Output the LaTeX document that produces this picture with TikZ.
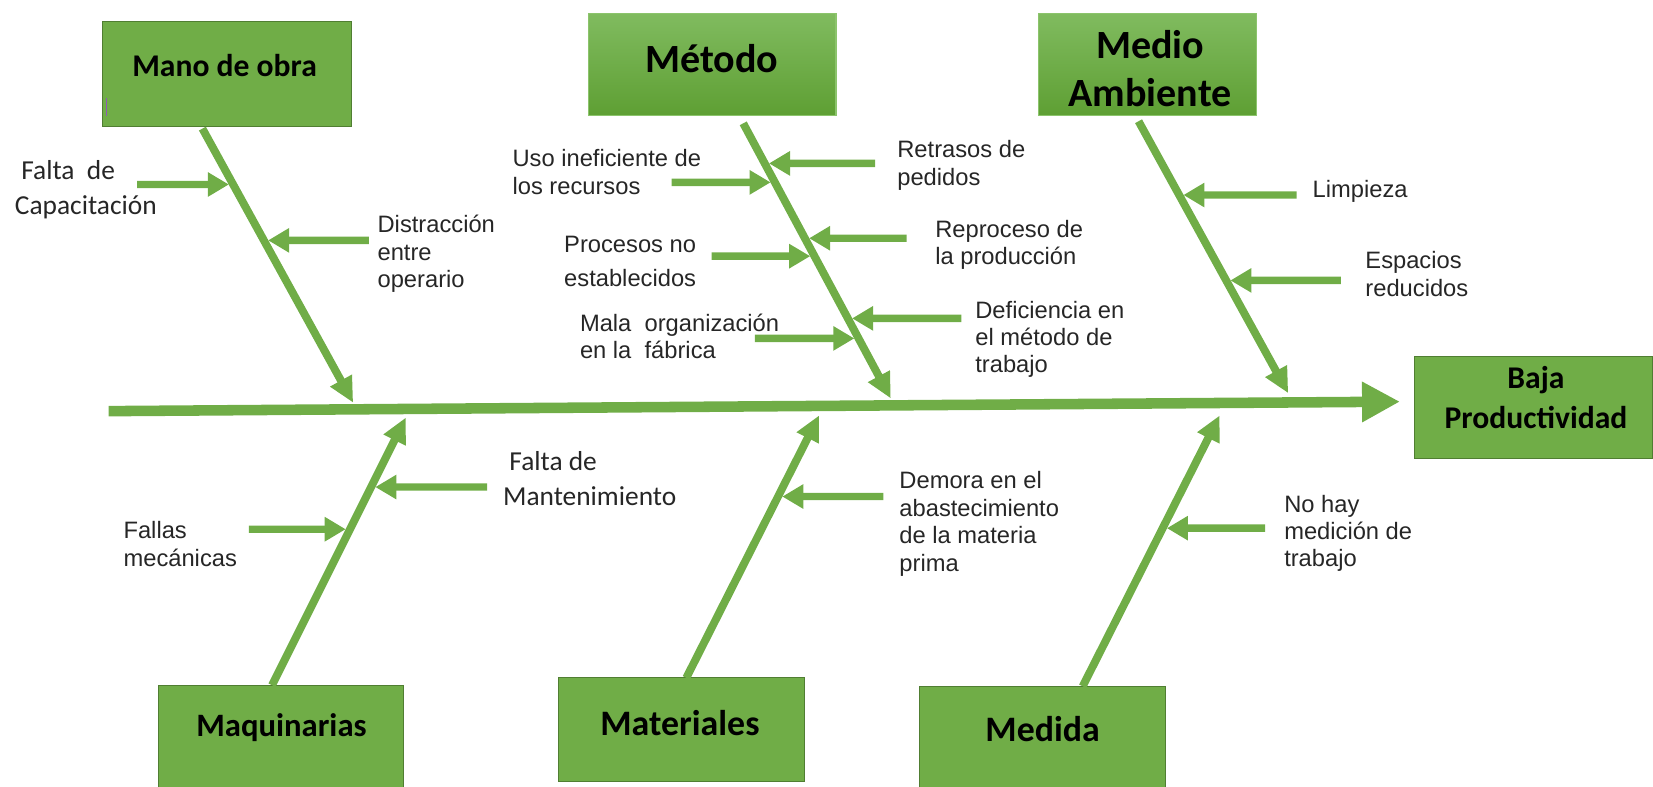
\documentclass[tikz,border=0pt]{standalone}
\usepackage{fontspec}
\setmainfont{Liberation Sans}
\newfontfamily\calibri{Carlito}
\usetikzlibrary{arrows.meta,calc}
\definecolor{lgreen}{HTML}{70AD47}
\definecolor{dborder}{HTML}{507E32}
\definecolor{gtop}{HTML}{80BB5F}
\definecolor{gbot}{HTML}{5E9F33}
\definecolor{gborder}{HTML}{8CC46C}
\definecolor{txt}{HTML}{262626}
\definecolor{cursor}{HTML}{8E5BB5}
\begin{document}
\begin{tikzpicture}[x=1pt,y=-1pt,
  causebox/.style={draw=dborder,line width=1pt,fill=lgreen,inner sep=0pt},
  gradbox/.style={draw=gborder,line width=1pt,top color=gtop,bottom color=gbot,inner sep=0pt},
  title/.style={inner sep=0pt,align=center,text=black},
  lab/.style={anchor=west,align=left,inner sep=0pt,text=txt,font=\fontsize{22.5}{26}\selectfont},
  calab/.style={anchor=west,align=left,inner sep=0pt,text=txt,font=\calibri\fontsize{26}{33}\selectfont},
  spine/.style={draw=lgreen,line width=10pt,-{Triangle[length=36pt,width=36pt]}},
  bone/.style={draw=lgreen,line width=7.5pt,-{Triangle[length=24pt,width=22pt]}},
  sm/.style={draw=lgreen,line width=7pt,-{Triangle[length=20pt,width=22pt]}}]
\useasboundingbox (0,0) rectangle (1568,746);

% boxes
\node[causebox,minimum width=236,minimum height=100] (mano) at (215,70) {};
\node[gradbox,minimum width=235,minimum height=97] (metodo) at (675.5,61.5) {};
\node[gradbox,minimum width=207,minimum height=97] (medio) at (1088.5,61.5) {};
\node[causebox,minimum width=226,minimum height=97] (baja) at (1455,386.5) {};
\node[causebox,minimum width=233,minimum height=100] (maq) at (266.5,700) {};
\node[causebox,minimum width=233,minimum height=98] (mat) at (646.5,692) {};
\node[causebox,minimum width=234,minimum height=98] (med) at (989,700) {};

\node[title,font=\calibri\bfseries\fontsize{30}{36}\selectfont] (manot) at (213,62) {Mano de obra};
\draw[cursor,line width=1.5pt] (101,93) -- (101,110);
\node[title,font=\calibri\bfseries\fontsize{38}{46}\selectfont] (metodot) at (675,56) {Método};
\node[title,font=\calibri\bfseries\fontsize{38}{46}\selectfont] (mediot) at (1091,65) {Medio\\Ambiente};
\node[title,font=\calibri\bfseries\fontsize{30}{38}\selectfont] (bajat) at (1457,377) {Baja\\Productividad};
\node[title,font=\calibri\bfseries\fontsize{31}{37}\selectfont] (maqt) at (267,690) {Maquinarias};
\node[title,font=\calibri\bfseries\fontsize{34}{40}\selectfont] (matt) at (645,686) {Materiales};
\node[title,font=\calibri\bfseries\fontsize{34}{40}\selectfont] (medt) at (989,692) {Medida};

% spine
\coordinate (sp0) at (103,390);
\coordinate (sp1) at (1328,381);
\draw[spine] (sp0) -- (sp1);

% bones
\coordinate (b1s) at (192,122); \coordinate (b1e) at (335,382);
\coordinate (b2s) at (705,117); \coordinate (b2e) at (845,378);
\coordinate (b3s) at (1080,115); \coordinate (b3e) at (1222,373);
\coordinate (b4s) at (258,650); \coordinate (b4e) at (385,396);
\coordinate (b5s) at (651,643); \coordinate (b5e) at (777,394);
\coordinate (b6s) at (1027,651); \coordinate (b6e) at (1157,394);
\draw[bone] (b1s) -- (b1e);
\draw[bone] (b2s) -- (b2e);
\draw[bone] (b3s) -- (b3e);
\draw[bone] (b4s) -- (b4e);
\draw[bone] (b5s) -- (b5e);
\draw[bone] (b6s) -- (b6e);

% small arrows
\coordinate (a1s) at (130,175);  \coordinate (a1e) at ($(b1s)!{(175-122)/(382-122)}!(b1e)+(-4,0)$);
\coordinate (a2s) at (350,228);  \coordinate (a2e) at ($(b1s)!{(228-122)/(382-122)}!(b1e)+(4,0)$);
\coordinate (a3s) at (637,173);  \coordinate (a3e) at ($(b2s)!{(173-117)/(378-117)}!(b2e)+(-4,0)$);
\coordinate (a4s) at (830,155);  \coordinate (a4e) at ($(b2s)!{(155-117)/(378-117)}!(b2e)+(4,0)$);
\coordinate (a5s) at (675,243);  \coordinate (a5e) at ($(b2s)!{(243-117)/(378-117)}!(b2e)+(-4,0)$);
\coordinate (a6s) at (860,226);  \coordinate (a6e) at ($(b2s)!{(226-117)/(378-117)}!(b2e)+(4,0)$);
\coordinate (a7s) at (716,321);  \coordinate (a7e) at ($(b2s)!{(321-117)/(378-117)}!(b2e)+(-4,0)$);
\coordinate (a8s) at (912,302);  \coordinate (a8e) at ($(b2s)!{(302-117)/(378-117)}!(b2e)+(4,0)$);
\coordinate (a9s) at (1230,185); \coordinate (a9e) at ($(b3s)!{(185-115)/(373-115)}!(b3e)+(4,0)$);
\coordinate (a10s) at (1272,266); \coordinate (a10e) at ($(b3s)!{(266-115)/(373-115)}!(b3e)+(4,0)$);
\coordinate (a11s) at (462,462); \coordinate (a11e) at ($(b4s)!{(462-650)/(396-650)}!(b4e)+(4,0)$);
\coordinate (a12s) at (236,502); \coordinate (a12e) at ($(b4s)!{(502-650)/(396-650)}!(b4e)+(-4,0)$);
\coordinate (a13s) at (838,471); \coordinate (a13e) at ($(b5s)!{(471-643)/(394-643)}!(b5e)+(4,0)$);
\coordinate (a14s) at (1200,501); \coordinate (a14e) at ($(b6s)!{(501-651)/(394-651)}!(b6e)+(4,0)$);
\foreach \i in {1,...,14} {\draw[sm] (a\i s) -- (a\i e);}

% labels
\node[calab] (l1) at (14,180) {\hspace{6pt}Falta\ \ de\\Capacitación};
\node[lab] (l2) at (358,241) {Distracción\\entre\\operario};
\node[lab] (l3) at (486,163) {Uso ineficiente de\\los recursos};
\node[lab] (l4) at (851,157) {Retrasos de\\pedidos};
\node[lab,font=\fontsize{22.5}{33}\selectfont] (l5) at (535,248) {Procesos no\\establecidos};
\node[lab] (l6) at (887,232) {Reproceso de\\la producción};
\node[lab] (l7) at (550,319) {Mala\ \ organización\\en la\ \ fábrica};
\node[lab] (l8) at (925,322) {Deficiencia en\\el método de\\trabajo};
\node[lab] (l9) at (1245,182) {Limpieza};
\node[lab] (l10) at (1295,260) {Espacios\\reducidos};
\node[calab] (l11) at (477,454) {\hspace{6pt}Falta de\\Mantenimiento};
\node[lab] (l12) at (117,516) {Fallas\\mecánicas};
\node[lab] (l13) at (853,497) {Demora en el\\abastecimiento\\de la materia\\prima};
\node[lab] (l14) at (1218,506) {No hay\\medición de\\trabajo};
\end{tikzpicture}
\end{document}
